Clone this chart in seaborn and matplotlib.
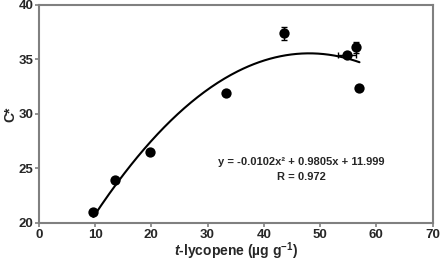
import numpy as np
import pandas as pd
import matplotlib
matplotlib.use('Agg')
import matplotlib.pyplot as plt
import seaborn as sns

# 数据
lycopene = [9.7, 13.6, 19.8, 33.2, 43.6, 54.7, 56.3, 57.0]
chroma = [21.0, 23.9, 26.5, 31.9, 37.4, 35.4, 36.1, 32.4]
x_err = [0, 0, 0, 0, 0, 1.6, 0, 0]
y_err = [0.2, 0.2, 0, 0, 0.6, 0, 0.5, 0]
coef = [-0.0102, 0.9805, 11.999]   # 二次拟合系数
eq_text = 'y = -0.0102x² + 0.9805x + 11.999'
r_text = 'R = 0.972'

df = pd.DataFrame({'x': lycopene, 'y': chroma})

sns.set_style('white')
plt.rcParams['font.family'] = ['Liberation Sans', 'DejaVu Sans']
plt.rcParams['mathtext.fontset'] = 'custom'
plt.rcParams['mathtext.rm'] = 'Liberation Sans:bold'
plt.rcParams['mathtext.bf'] = 'Liberation Sans:bold'
plt.rcParams['mathtext.bfit'] = 'Liberation Sans:bold:italic'

fig = plt.figure(figsize=(4.41, 2.62), dpi=100)
ax = fig.add_axes([0.088, 0.149, 0.893, 0.832])

# 拟合曲线
xs = np.linspace(min(lycopene), max(lycopene), 200)
sns.lineplot(x=xs, y=np.polyval(coef, xs), color='black', lw=1.5, ax=ax)

ax.errorbar(lycopene, chroma, xerr=x_err, yerr=y_err, fmt='none',
            ecolor='black', elinewidth=1, capsize=2.5, capthick=1)
sns.scatterplot(data=df, x='x', y='y', color='black', s=55,
                edgecolor='black', linewidth=0, zorder=3, ax=ax)

ax.text(46.6, 25.6, eq_text, ha='center', va='center', fontsize=8, fontweight='bold')
ax.text(46.6, 24.2, r_text, ha='center', va='center', fontsize=8, fontweight='bold')

ax.set_xlim(0, 70)
ax.set_ylim(20, 40)
ax.set_xticks(range(0, 71, 10))
ax.set_yticks(range(20, 41, 5))
ax.set_xlabel(r'$\mathbfit{t}$-lycopene (µg g$^{\mathbf{-1}}$)', fontsize=10,
              fontweight='bold', labelpad=0)
ax.set_ylabel('C*', fontsize=10, fontweight='bold', labelpad=1)

for sp in ax.spines.values():
    sp.set_color('#808080')
    sp.set_linewidth(1.5)
ax.tick_params(axis='both', direction='out', length=3, width=1.2, color='#808080',
               labelsize=9.5, pad=1, bottom=True, left=True)
for lab in ax.get_xticklabels() + ax.get_yticklabels():
    lab.set_fontweight('bold')

plt.savefig('out.png', dpi=100)
